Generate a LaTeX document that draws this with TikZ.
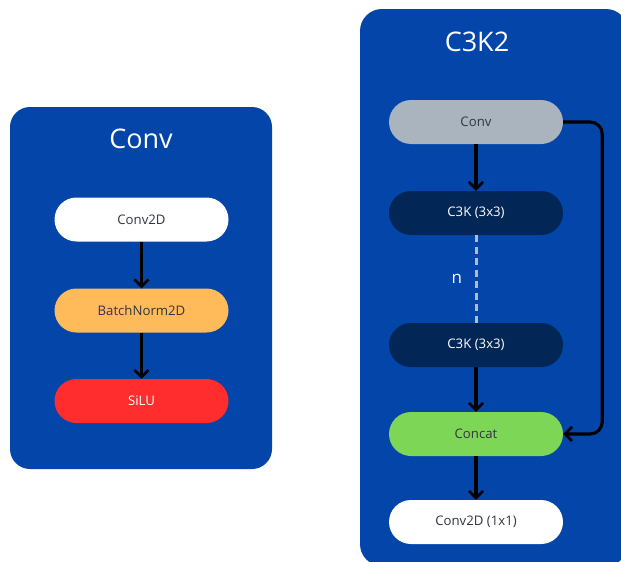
\documentclass[tikz,border=0pt]{standalone}
\usepackage{fontspec}
\setmainfont{Open Sans}
\usetikzlibrary{arrows.meta}
\definecolor{panelblue}{RGB}{3,69,168}
\definecolor{navy}{RGB}{2,38,85}
\definecolor{convgrey}{RGB}{170,180,191}
\definecolor{concatgreen}{RGB}{126,214,87}
\definecolor{bnorange}{RGB}{255,186,90}
\definecolor{silured}{RGB}{255,45,45}
\definecolor{darktext}{RGB}{50,54,66}
\definecolor{dashgrey}{RGB}{176,188,204}
\tikzset{
  panel/.style={fill=panelblue, rounded corners=20pt},
  title/.style={text=white, font=\fontsize{27}{32}\selectfont},
  block/.style={rounded corners=22pt, minimum width=174pt, minimum height=44pt,
    inner sep=0pt, font=\fontsize{13.2}{16}\selectfont, text=darktext},
  flow/.style={line width=3.1pt, -{Straight Barb[length=7pt,width=14pt,line width=2.6pt]}},
}
\begin{document}
\begin{tikzpicture}[x=1pt, y=-1pt]
  \useasboundingbox (0,0) rectangle (621,562);
  \clip (0,0) rectangle (621,562);
  \fill[white] (0,0) rectangle (621,562);

  % Conv module
  \fill[panel] (10,107) rectangle (272,469);
  \node[title] (convtitle) at (141,139) {Conv};
  \node[block, fill=white] (conv2d) at (141.5,219.5) {Conv2D};
  \node[block, fill=bnorange] (bn) at (141.5,310.5) {BatchNorm2D};
  \node[block, fill=silured, text=white] (silu) at (141.5,401) {SiLU};
  \draw[flow] (conv2d) -- (bn);
  \draw[flow] (bn) -- (silu);

  % C3K2 module
  \fill[panel, rounded corners=22pt] (360,9) rectangle (628,566);
  \node[title] (c3k2title) at (477,42) {C3K2};
  \node[block, fill=convgrey] (conv) at (476,122) {Conv};
  \node[block, fill=navy, text=white] (c3ka) at (476,213) {C3K (3x3)};
  \node[block, fill=navy, text=white] (c3kb) at (476,345) {C3K (3x3)};
  \node[block, fill=concatgreen] (concat) at (476,434) {Concat};
  \node[block, fill=white] (out) at (476,522) {Conv2D (1x1)};
  \draw[flow] (conv) -- (c3ka);
  \draw[line width=3pt, dashgrey, dash pattern=on 7pt off 4.5pt] (c3ka) -- (c3kb)
    node[midway, left=9pt, text=white, font=\fontsize{17}{20}\selectfont] (nlabel) {n};
  \draw[flow] (c3kb) -- (concat);
  \draw[flow] (concat) -- (out);
  \draw[flow, rounded corners=12pt] (conv.east) -- ++(39,0) |- (concat.east);
\end{tikzpicture}
\end{document}
